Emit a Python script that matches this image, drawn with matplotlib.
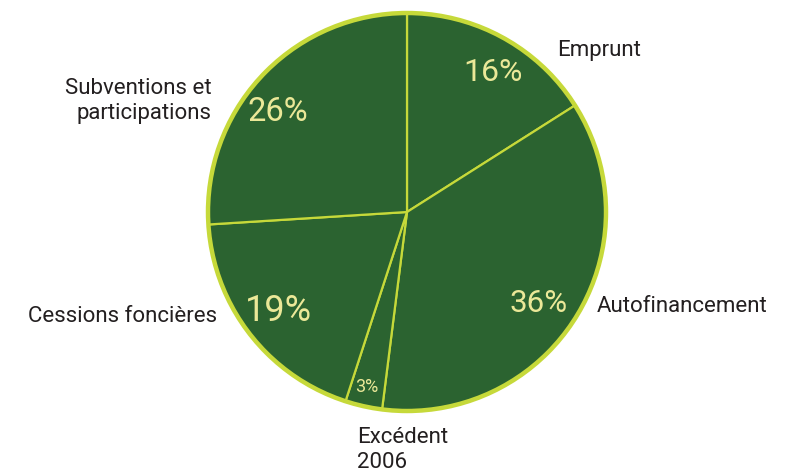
import matplotlib.pyplot as plt

labels = ["Emprunt", "Autofinancement", "Excédent\n2006", "Cessions foncières",
          "Subventions et\nparticipations"]
values = [16, 36, 3, 19, 26]

fill_color = "#2b6330"
edge_color = "#c6d93a"
pct_color = "#ebe898"

# pixel positions of the texts (figure is laid out in pixel units)
pct_pos = [(493, 401), (539, 170), (367, 86), (279, 162), (278, 361)]
pct_size = [23, 22.5, 13, 26, 23.5]
label_pos = [(557, 423, "left"), (597, 167, "left"), (357, 23, "left"),
             (217, 157, "right"), (212, 372, "right")]

fig = plt.figure(figsize=(7.93, 4.73), dpi=100)
ax = fig.add_axes([0, 0, 1, 1])

wedges, _ = ax.pie(values, center=(407, 261), radius=199, startangle=90,
                   counterclock=False, colors=[fill_color] * len(values),
                   wedgeprops=dict(edgecolor=edge_color, linewidth=1.6))
ax.add_patch(plt.Circle((407, 261), 199, fill=False, edgecolor=edge_color,
                        linewidth=3.2))
ax.set_xlim(0, 793)
ax.set_ylim(0, 473)
ax.set_aspect("equal")
ax.axis("off")

for v, (x, y), s in zip(values, pct_pos, pct_size):
    ax.text(x, y, f"{v}%", color=pct_color, fontsize=s, ha="center",
            va="center", family="Roboto")

for lab, (x, y, ha) in zip(labels, label_pos):
    ax.text(x, y, lab, color="#231f20", fontsize=16, ha=ha, va="center",
            family="Roboto", linespacing=1.2)

fig.savefig("out.png", dpi=100)
